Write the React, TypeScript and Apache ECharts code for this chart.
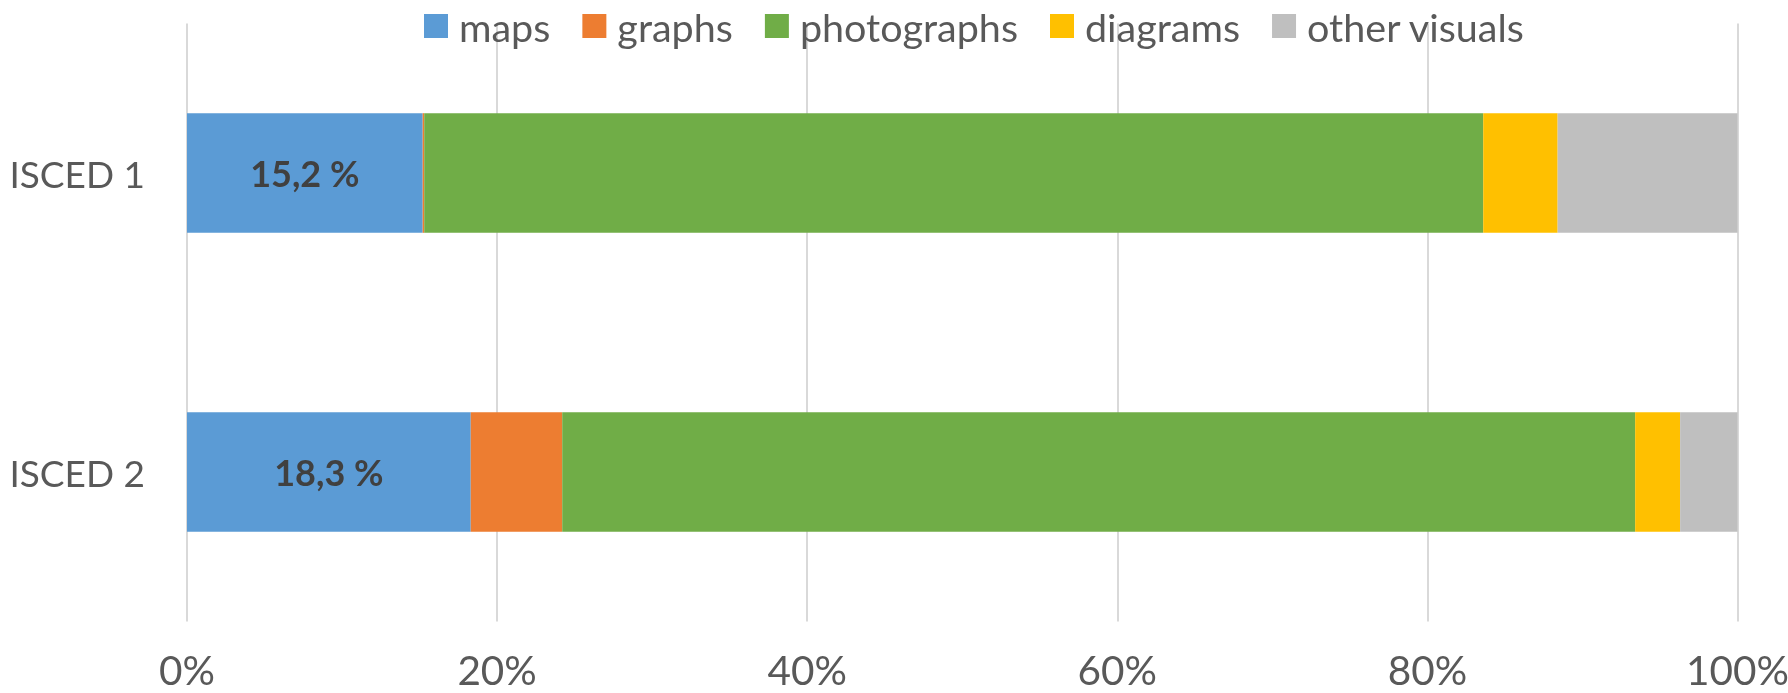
import React, { useEffect, useRef } from "react";
import * as echarts from "echarts";

const categories = ["ISCED 1", "ISCED 2"];
const seriesNames = ["maps", "graphs", "photographs", "diagrams", "other visuals"];
const maps = [15.2, 18.3];
const graphs = [0.1, 5.9];
const photographs = [68.3, 69.2];
const diagrams = [4.8, 2.9];
const otherVisuals = [11.6, 3.7];
const colors = ["#5b9bd5", "#ed7d31", "#70ad47", "#ffc000", "#bfbfbf"];
const xTicks = [0, 20, 40, 60, 80, 100];

const FONT = "Lato, 'Liberation Sans', sans-serif";

export default function App() {
  const ref = useRef<HTMLDivElement>(null);
  useEffect(() => {
    document.body.style.margin = "0";
    document.body.style.overflow = "hidden";
    if (!ref.current) return;
    const chart = echarts.init(ref.current, null, { renderer: "svg" });
    const values = [maps, graphs, photographs, diagrams, otherVisuals];
    chart.setOption({
      animation: false,
      color: colors,
      legend: {
        top: 6,
        left: 424,
        padding: 0,
        itemWidth: 24,
        itemHeight: 24,
        itemGap: 32,
        icon: "rect",
        data: seriesNames,
        textStyle: {
          fontFamily: FONT,
          fontSize: 39.5,
          color: "#595959",
          padding: [0, 0, 0, 6],
        },
      },
      grid: {
        left: 187,
        right: 50.5,
        top: 23.5,
        bottom: 71.5,
        containLabel: false,
        outerBoundsMode: "none",
      },
      xAxis: {
        type: "value",
        min: 0,
        max: 100,
        interval: 20,
        axisLine: { show: false },
        axisTick: { show: false },
        splitLine: { show: true, lineStyle: { color: "#d9d9d9", width: 2 } },
        axisLabel: {
          margin: 27,
          fontFamily: FONT,
          fontSize: 40.5,
          lineHeight: 41,
          color: "#595959",
          formatter: (v: number) => (xTicks.includes(v) ? v + "%" : ""),
        },
      },
      yAxis: {
        type: "category",
        data: categories,
        inverse: true,
        axisLine: { show: false },
        axisTick: { show: false },
        axisLabel: {
          margin: 42,
          fontFamily: FONT,
          fontSize: 37,
          color: "#595959",
        },
      },
      series: seriesNames.map((name, i) => ({
        name,
        type: "bar",
        stack: "total",
        barWidth: "40%",
        data: values[i],
        itemStyle: { color: colors[i] },
        label:
          i === 0
            ? {
                show: true,
                position: "inside",
                fontFamily: FONT,
                fontSize: 36,
                fontWeight: "bold",
                color: "#404040",
                formatter: (p: any) => String(p.value).replace(".", ",") + " %",
              }
            : { show: false },
      })),
    });
    return () => chart.dispose();
  }, []);
  return (
    <div
      ref={ref}
      style={{ position: "fixed", left: 0, top: 0, width: 1788, height: 693 }}
    />
  );
}
